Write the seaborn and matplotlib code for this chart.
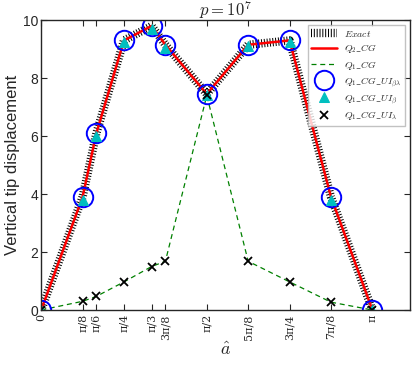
import numpy as np
import matplotlib
matplotlib.use("Agg")
import matplotlib.pyplot as plt
import seaborn as sns

# Crack positions (fractions of pi) and tick labels
a_frac = [0, 1/8, 1/6, 1/4, 1/3, 3/8, 1/2, 5/8, 3/4, 7/8, 1]
tick_labels = ["0", "π/8", "π/6", "π/4", "π/3", "3π/8",
               "π/2", "5π/8", "3π/4", "7π/8", "π"]

# Vertical tip displacement
exact = [0.0, 3.9, 6.1, 9.3, 9.8, 9.15, 7.45, 9.15, 9.3, 3.9, 0.0]
q2_cg = [0.0, 3.9, 6.1, 9.3, 9.8, 9.15, 7.45, 9.15, 9.3, 3.9, 0.0]
q1_cg = [0.0, 0.3, 0.47, 0.97, 1.5, 1.68, 7.4, 1.68, 0.97, 0.27, 0.0]
q1_ui_bl = [0.0, 3.9, 6.1, 9.3, 9.8, 9.15, 7.45, 9.15, 9.3, 3.9, 0.0]
q1_ui_b = [0.0, 3.8, 6.0, 9.25, 9.7, 9.05, 7.4, 9.1, 9.25, 3.8, 0.0]
q1_ui_l = [0.0, 0.3, 0.47, 0.97, 1.5, 1.68, 7.4, 1.68, 0.97, 0.27, 0.0]

a = np.array(a_frac) * np.pi

sns.set_style("ticks")
plt.rcParams["font.family"] = ["Liberation Sans", "DejaVu Sans"]
plt.rcParams["mathtext.fontset"] = "cm"
plt.rcParams["xtick.direction"] = "in"
plt.rcParams["ytick.direction"] = "in"

fig = plt.figure(figsize=(4.16, 3.66), dpi=100)
ax = fig.add_axes([0.099, 0.153, 0.887, 0.792])

sns.lineplot(x=a, y=exact, ax=ax, sort=False, color="black", linewidth=6,
             linestyle=(0, (0.12, 0.22)), label=r"$Exact$")
sns.lineplot(x=a, y=q2_cg, ax=ax, sort=False, color="red", linewidth=1.8,
             label=r"$Q_2\_CG$")
sns.lineplot(x=a, y=q1_cg, ax=ax, sort=False, color="green", linewidth=0.9,
             linestyle=(0, (4, 3)), label=r"$Q_1\_CG$")
sns.lineplot(x=a, y=q1_ui_bl, ax=ax, sort=False, color="blue", linestyle="",
             marker="o", markersize=14, markerfacecolor="none",
             markeredgecolor="blue", markeredgewidth=1.4,
             label=r"$Q_1\_CG\_UI_{\beta\lambda}$")
sns.lineplot(x=a, y=q1_ui_b, ax=ax, sort=False, color="c", linestyle="",
             marker="^", markersize=7, markeredgecolor="c",
             label=r"$Q_1\_CG\_UI_{\beta}$")
sns.lineplot(x=a, y=q1_ui_l, ax=ax, sort=False, color="black", linestyle="",
             marker="x", markersize=6, markeredgewidth=1.3,
             markeredgecolor="black",
             label=r"$Q_1\_CG\_UI_{\lambda}$")

ax.set_xlim(0, 3.5)
ax.set_ylim(0, 10)
ax.set_xticks(a)
ax.set_xticklabels(tick_labels, rotation=90, fontsize=8, family="DejaVu Serif")
ax.set_yticks([0, 2, 4, 6, 8, 10])
ax.tick_params(axis="y", labelsize=10, pad=2)
ax.tick_params(axis="x", pad=3)
ax.tick_params(top=True, right=True, length=4)
ax.set_xlabel(r"$\hat{a}$", fontsize=13, labelpad=2)
ax.set_ylabel("Vertical tip displacement", fontsize=12, labelpad=2)
ax.set_title(r"$p = 10^7$", fontsize=12, pad=3)
for s in ax.spines.values():
    s.set_linewidth(1.0)

ax.legend(loc="upper right", fontsize=7, frameon=True, fancybox=False,
          edgecolor="0.7", handlelength=2.6, borderpad=0.4, labelspacing=0.35)

fig.savefig("out.png", dpi=100)
